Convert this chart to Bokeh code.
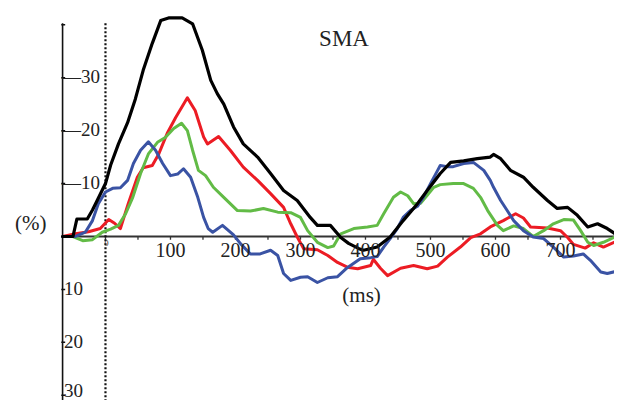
from bokeh.plotting import figure
from bokeh.models import Range1d, ColumnDataSource, Label
from bokeh.core.properties import value
from bokeh.embed import file_html
from bokeh.resources import INLINE

# ---- data (time in ms, change in %; negative values are drawn upward) ----
black_t = [-66, -50, -44, -28, -20, -12, 0, 8, 20, 34, 46, 58, 72, 85, 97, 118, 134, 149, 162, 172,
           182, 197, 212, 234, 254, 274, 295, 315, 326, 346, 362, 374, 390, 397, 418, 438, 458, 480,
           495, 515, 531, 551, 572, 592, 597, 608, 623, 643, 658, 680, 695, 711, 726, 742, 757, 772,
           788, 808]
black_v = [0, 0, -3.3, -3.3, -5, -7, -10, -13.5, -17.5, -21.5, -26, -31.4, -36.5, -40.8, -41.3, -41.3,
           -40.2, -35.2, -29.5, -27, -25, -20.7, -17.5, -15, -11.9, -8.7, -6.8, -3.6, -2.1, -2.1, 0.2,
           1.3, 2.3, 2.6, 2, 0.1, -3, -6.2, -8.7, -11.9, -14, -14.3, -14.7, -15, -15.5, -14.7, -12.5,
           -11.2, -9.3, -6.8, -5.3, -5.5, -4, -1.8, -2.4, -1.5, -0.2, 0]

red_t = [-66, -46, -26, -8, 5, 14, 23, 35, 49, 58, 72, 82, 95, 108, 126, 138, 151, 157, 174, 192,
         212, 234, 254, 274, 285, 295, 305, 326, 342, 357, 372, 388, 408, 412, 423, 434, 454, 474,
         495, 511, 526, 546, 562, 577, 592, 612, 631, 643, 654, 680, 700, 711, 720, 738, 751, 766,
         788, 808]
red_v = [0, -0.5, -0.9, -1.5, -3.2, -2.5, -1.5, -6.2, -11.2, -13, -13.4, -15.6, -19.5, -22.5, -26.2,
         -23.8, -18.8, -17.5, -18.9, -16.3, -13.1, -10.6, -8.1, -5.5, -2.4, 0.1, 2.3, 2.5, 3.6, 4.9,
         5.8, 6.1, 5.5, 4.3, 6, 7.4, 6, 5.5, 6.1, 5.6, 3.9, 2, 0.2, -0.5, -1.8, -3, -4.3, -3.5, -1.8,
         -1.6, -1.1, 0.2, 1.5, 2.2, 1.2, 2, 0.8, 0.2]

green_t = [-66, -51, -35, -20, -5, 8, 20, 31, 42, 54, 66, 80, 92, 105, 117, 126, 134, 143, 154, 166,
           182, 203, 223, 243, 265, 285, 300, 311, 326, 342, 351, 362, 382, 403, 418, 428, 443, 454,
           465, 474, 485, 495, 505, 515, 535, 551, 566, 577, 588, 603, 612, 628, 643, 658, 674, 689,
           705, 720, 731, 742, 751, 766, 782, 808]
green_v = [0, 0, 0.8, 0.6, -0.8, -1.4, -2.1, -4.3, -7.4, -11.9, -15.6, -17.8, -18.7, -20.4, -21.4,
           -20, -16.3, -12.5, -11.5, -9.3, -7.4, -4.9, -4.8, -5.3, -4.6, -4.5, -3.6, -1.1, 1.1, 2.1,
           1.8, -0.5, -1.5, -1.8, -2.1, -4.3, -7.4, -8.4, -7.7, -6.2, -6.3, -7.8, -9.3, -9.8, -10,
           -10, -9.1, -7.4, -4.9, -2.1, -1.1, -2, -1.5, 0, -1.1, -2.4, -3.2, -3.1, -1.1, 1.1, 1.7, 1.1,
           0.2, 0]

blue_t = [-66, -46, -31, -20, -11, 0, 11, 23, 34, 43, 54, 66, 77, 88, 100, 111, 120, 131, 142, 151,
          158, 165, 180, 197, 208, 223, 238, 254, 265, 274, 285, 300, 311, 326, 342, 357, 372, 392,
          408, 418, 428, 438, 449, 458, 469, 480, 489, 500, 511, 515, 526, 535, 551, 566, 582, 592,
          597, 608, 618, 628, 643, 658, 674, 689, 705, 720, 735, 746, 762, 772, 792, 808]
blue_v = [0, 0, -0.8, -3, -6.2, -8.4, -9.1, -9.2, -10.6, -13.8, -16.3, -17.9, -16.3, -13.8, -11.5,
          -11.8, -12.8, -11.2, -7.4, -3.6, -1.5, -0.8, -2.1, -0.3, 1.4, 3.3, 3.3, 2.6, 3.6, 7, 8.3,
          7.7, 7.6, 8.7, 7.8, 7.6, 5.9, 4.2, 4, 3.8, 2, 0.4, -1.5, -3.6, -4.9, -5.7, -7.4, -10, -12.5,
          -13.4, -13.2, -13.2, -13.8, -14, -12.5, -10.6, -9.3, -6.8, -4.9, -3, -1.1, 0.1, 0.4, 2, 3.9,
          3.7, 3.3, 4.5, 6.7, 7, 6.4, 6.6]

x_tick_values = [100, 200, 300, 400, 500, 600, 700]
x_tick_labels = ["100", "200", "300", "400", "500", "600", "700"]
x_minor_ticks = [0, 50, 100, 150, 200, 250, 300, 350, 400, 450, 500, 550, 600, 650, 700, 750]
y_tick_values = [-30, -20, -10, 10, 20, 30]
y_tick_labels = ["\u201430", "\u201420", "\u201410", "10", "20", "30"]
y_tick_marks = [-40, -30, -20, -10, 10, 20, 30]

AXIS_X = -66      # ms position of the left (y) axis spine
FONT = value("Liberation Serif")
TXT = "#222222"

p = figure(width=614, height=400, output_backend="svg", toolbar_location=None,
           x_axis_location=None, y_axis_location=None,
           x_range=Range1d(-161.5, 783.1), y_range=Range1d(31.0, -44.6),
           min_border=0, outline_line_color=None)
p.grid.visible = False

# axes drawn by hand
p.line([AXIS_X, 820], [0, 0], line_color="#333333", line_width=1.8)
p.line([AXIS_X, AXIS_X], [-40.3, 40], line_color="#111111", line_width=1.6)
p.segment(x0=[AXIS_X - 2] * len(y_tick_marks), y0=y_tick_marks,
          x1=[AXIS_X + 4] * len(y_tick_marks), y1=y_tick_marks, line_color="#111111", line_width=1.5)
p.segment(x0=x_minor_ticks, y0=[0] * len(x_minor_ticks), x1=x_minor_ticks,
          y1=[0.6] * len(x_minor_ticks), line_color="#333333", line_width=1.3)

# dotted zero line
p.line([0, 0], [-40.3, 40], line_color="#111111", line_width=2.2, line_dash="2 2")

# curves
for t, v, c, w in [(red_t, red_v, "#ec1c24", 3), (green_t, green_v, "#62bb46", 3),
                   (blue_t, blue_v, "#3a53a4", 3), (black_t, black_v, "#000000", 3.2)]:
    p.line(t, v, line_color=c, line_width=w, line_join="round", line_cap="round")

# tick labels
xsrc = ColumnDataSource(dict(x=x_tick_values, y=[2.6] * len(x_tick_values), t=x_tick_labels))
p.text(x="x", y="y", text="t", source=xsrc, text_font=FONT, text_font_size="20px",
       text_color=TXT, text_align="center", text_baseline="middle")
ysrc = ColumnDataSource(dict(
    x=[AXIS_X + (-1 if v < 0 else 2) for v in y_tick_values],
    y=y_tick_values, t=y_tick_labels,
    dy=[-1 if v < 30 else -5 for v in y_tick_values]))
p.text(x="x", y="y", text="t", source=ysrc, text_font=FONT, text_font_size="19px",
       text_color=TXT, text_align="left", text_baseline="middle", y_offset="dy")
p.add_layout(Label(x=1.5, y=1.2, text="0", text_font="Liberation Serif", text_font_size="8px",
                   text_color=TXT, text_align="center", text_baseline="middle"))

# titles
p.add_layout(Label(x=367, y=-37.5, text="SMA", text_font="Liberation Serif", text_font_size="23px",
                   text_color=TXT, text_align="center", text_baseline="middle"))
p.add_layout(Label(x=394, y=11, text="(ms)", text_font="Liberation Serif", text_font_size="21px",
                   text_color=TXT, text_align="center", text_baseline="middle"))
p.add_layout(Label(x=-115, y=-2.6, text="(%)", text_font="Liberation Serif", text_font_size="21px",
                   text_color=TXT, text_align="center", text_baseline="middle"))

open("out.html", "w").write(file_html(p, INLINE))
